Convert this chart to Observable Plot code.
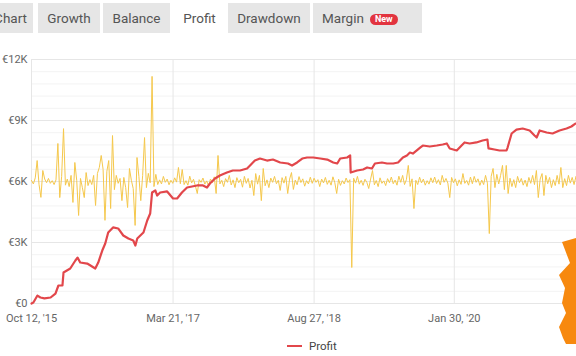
<!DOCTYPE html>
<html><head><meta charset="utf-8">
<script src="https://cdn.jsdelivr.net/npm/d3@7"></script>
<script src="https://cdn.jsdelivr.net/npm/@observablehq/plot@0.6"></script>
<style>
body{margin:0;background:#fff;font-family:Roboto,"Open Sans",sans-serif;}
#wrap{position:relative;width:576px;height:356px;overflow:hidden;background:#fff;}
#chart{position:absolute;left:0;top:0;}
.tab{position:absolute;top:3px;height:30px;line-height:30px;background:#e6e6e6;color:#555;font-size:13.5px;text-align:center;z-index:2;}
.tab.active{background:#fff;}
.new{display:inline-block;background:#e2343f;color:#fff;font-size:9px;font-weight:bold;line-height:11px;padding:0 5px;border-radius:6px;vertical-align:1px;margin-left:6px;}
#legend{position:absolute;left:287px;top:339px;font-size:11.5px;color:#444;display:flex;align-items:center;}
#legend .sw{width:15px;height:2px;background:#e2474b;margin-right:7px;}
#blob{position:absolute;left:0;top:0;z-index:3;}
</style></head>
<body>
<div id="wrap">
  <div class="tab" style="left:-30px;width:63px;text-align:right;"><span style="margin-right:6px">Chart</span></div>
  <div class="tab" style="left:38px;width:62px;">Growth</div>
  <div class="tab" style="left:103px;width:67px;">Balance</div>
  <div class="tab active" style="left:172px;width:55px;">Profit</div>
  <div class="tab" style="left:228px;width:82px;">Drawdown</div>
  <div class="tab" style="left:313px;width:100px;text-align:left;padding-left:9px;">Margin<span class="new">New</span></div>
  <div id="chart"></div>
  <div id="legend"><div class="sw"></div><span>Profit</span></div>
  <svg id="blob" width="576" height="356"><polygon fill="#f7890f" points="562,242 576,238 576,344 566,344 563,338 559,327 566,313 562,303 565,288 559,275 570,263"/></svg>
</div>
<script>
// Cumulative profit (EUR)
const profitDates = ["2015-10-12","2015-10-19","2015-11-03","2015-11-14","2015-11-29","2015-12-22","2016-01-09","2016-01-20","2016-02-04","2016-02-08","2016-03-04","2016-03-23","2016-03-31","2016-04-10","2016-05-06","2016-06-05","2016-06-16","2016-07-01","2016-07-12","2016-07-23","2016-08-10","2016-08-29","2016-09-17","2016-10-06","2016-10-24","2016-11-01","2016-11-08","2016-11-27","2016-12-01","2016-12-15","2016-12-26","2017-01-02","2017-01-14","2017-01-21","2017-02-01","2017-02-27","2017-03-21","2017-04-05","2017-04-23","2017-05-12","2017-06-18","2017-07-10","2017-07-25","2017-08-05","2017-08-24","2017-09-11","2017-10-07","2017-10-29","2017-11-25","2017-12-21","2018-01-01","2018-01-19","2018-02-07","2018-03-05","2018-03-27","2018-04-23","2018-05-22","2018-06-06","2018-06-25","2018-07-14","2018-08-01","2018-08-24","2018-09-19","2018-10-15","2018-11-06","2018-11-21","2018-12-02","2018-12-28","2019-01-08","2019-01-10","2019-02-03","2019-02-25","2019-03-12","2019-03-30","2019-04-10","2019-05-06","2019-05-25","2019-06-17","2019-07-05","2019-07-23","2019-08-07","2019-08-18","2019-08-29","2019-09-25","2019-10-05","2019-10-31","2019-11-26","2019-12-18","2020-01-02","2020-01-13","2020-02-08","2020-02-26","2020-03-08","2020-03-27","2020-04-21","2020-05-14","2020-06-01","2020-06-05","2020-06-27","2020-07-16","2020-08-11","2020-08-15","2020-08-30","2020-09-17","2020-10-10","2020-11-05","2020-11-23","2020-12-01","2020-12-12","2021-01-07","2021-01-29","2021-02-24","2021-03-22","2021-04-09","2021-04-24"];
const profitValues = [0,50,390,295,250,295,490,885,885,1525,1720,2115,2260,2015,1965,1720,2015,2605,2950,3490,3740,3690,3345,3195,3100,2850,3195,3440,3490,4080,4425,5460,5560,5310,5460,5510,5165,5165,5460,5705,5805,5805,5705,5900,6150,6295,6440,6540,6540,6640,6785,7030,7130,7030,7080,6935,6885,6785,6935,7130,7180,7180,7130,7080,6935,6885,7130,7180,7280,6440,6540,6590,6690,6640,6885,6935,6885,6885,6935,7180,7280,7425,7375,7670,7770,7720,7770,7820,7870,7625,7525,7770,7920,7870,7920,8015,8065,7625,7575,7525,7525,7670,8360,8555,8605,8510,8260,8165,8510,8410,8360,8510,8605,8705,8850];

// Weekly profit (EUR), drawn on the secondary band centred on the €6K line
const weeklyStart = "2015-10-12";
const weeklyValues = [
  50,-120,180,1030,-150,-780,540,120,-60,150,
  -90,40,-150,80,1870,-790,250,2600,-180,120,
  -250,300,-1030,935,60,-1670,150,-300,-790,440,
  -200,90,-150,300,-1180,400,690,1280,600,-1910,
  500,1030,-1330,2260,-400,300,-90,150,-940,200,
  -300,-1280,640,60,-350,-2160,1180,250,-940,300,
  2160,-300,400,-60,5170,-250,350,-150,80,-120,
  250,-40,120,-160,60,-90,180,-30,690,-110,
  590,-150,40,-180,260,-70,110,-220,-590,90,
  -40,170,-130,30,-210,120,-60,230,-590,1280,
  -120,60,-250,140,-40,300,-170,80,-300,190,
  -60,110,-280,250,-90,150,-320,60,-690,390,
  -130,300,-940,640,-210,80,-300,170,-40,250,
  -110,60,-440,190,-80,250,-590,120,440,-390,
  70,-160,240,-50,130,-230,40,-120,210,-90,
  160,-40,90,-250,120,-70,200,-140,60,-180,
  230,-60,-590,110,-190,40,-120,170,-50,90,
  -4230,160,-80,250,-130,60,-190,110,-40,-345,
  120,540,-160,50,-250,180,-90,30,-200,140,
  -60,220,-110,70,-180,260,-40,300,-150,90,
  790,-240,130,-1330,60,-150,210,-70,120,-180,
  40,-130,180,-60,220,-100,90,-170,300,-40,
  150,-80,-790,200,-60,130,-210,80,-140,390,
  -90,50,-180,220,-110,250,-40,130,-190,70,
  -150,300,-80,-2560,250,640,-300,350,-120,300,
  790,-400,790,-590,160,-250,90,-300,250,-60,
  150,-180,70,-250,200,-90,300,-150,540,-790,
  120,390,-690,300,-110,200,-300,90,-200,300,
  -130,690,-300,140,-200,300,-80,200,-150,250];
const weeklyBaseline = 6000;

const yTicks = [0,3000,6000,9000,12000];
const yTickLabels = ["€0","€3K","€6K","€9K","€12K"];
const xTickDates = ["2015-10-12","2017-03-21","2018-08-27","2020-01-30"];
const xTickLabels = ["Oct 12, '15","Mar 21, '17","Aug 27, '18","Jan 30, '20"];
const xDomain = ["2015-10-12","2021-04-28"];

const profit = profitDates.map((d,i)=>({date:new Date(d), value:profitValues[i]}));
const start = new Date(weeklyStart);
const weekly = weeklyValues.map((v,i)=>({date:d3.utcDay.offset(start, i*7), value:weeklyBaseline+v}));
const xTicks = xTickDates.map(d=>new Date(d));
const minor = d3.range(0, 12001, 600).filter(v=>!yTicks.includes(v));

const chart = Plot.plot({
  width:576, height:330,
  marginLeft:31, marginRight:0, marginTop:59, marginBottom:27,
  style:{fontFamily:"Roboto, sans-serif", fontSize:"11px", color:"#666", background:"transparent", overflow:"visible"},
  x:{type:"utc", domain:xDomain.map(d=>new Date(d))},
  y:{domain:[0,12000]},
  marks:[
    Plot.ruleY(minor, {stroke:"#f3f3f3", strokeWidth:1}),
    Plot.ruleY(yTicks, {stroke:"#e6e6e6", strokeWidth:1}),
    Plot.ruleX(xTicks, {stroke:"#e6e6e6", strokeWidth:1}),
    Plot.axisY({ticks:yTicks, tickFormat:d=>yTickLabels[yTicks.indexOf(d)], tickSize:0, tickPadding:4, label:null, fill:"#666"}),
    Plot.axisX({ticks:xTicks, tickFormat:d=>xTickLabels[xTicks.findIndex(t=>+t===+d)], tickSize:0, tickPadding:11, label:null, fill:"#666"}),
    Plot.line(weekly, {x:"date", y:"value", stroke:"#f5c84c", strokeWidth:1}),
    Plot.line(profit, {x:"date", y:"value", stroke:"#e2474b", strokeWidth:2.2})
  ]
});
document.getElementById("chart").appendChild(chart);
</script>
</body></html>
